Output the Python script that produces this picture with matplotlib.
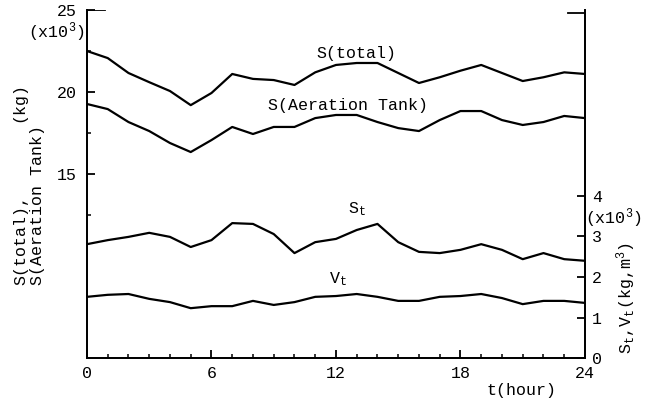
import numpy as np
import matplotlib
matplotlib.use("Agg")
import matplotlib.pyplot as plt
from matplotlib.lines import Line2D

plt.rcParams['font.family'] = ['Liberation Mono', 'DejaVu Sans Mono']
plt.rcParams['mathtext.fontset'] = 'custom'
plt.rcParams['mathtext.rm'] = 'Liberation Mono'
plt.rcParams['mathtext.it'] = 'Liberation Mono'
plt.rcParams['mathtext.default'] = 'regular'

# hours 0..24
hours = list(range(25))
# left axis (x10^3 kg)
s_total = [22.5, 22.07, 21.16, 20.6, 20.06, 19.2, 19.94, 21.1, 20.8, 20.73, 20.43, 21.2, 21.65,
           21.77, 21.77, 21.16, 20.55, 20.9, 21.3, 21.65, 21.16, 20.67, 20.9, 21.2, 21.1]
s_aer = [19.27, 18.96, 18.17, 17.62, 16.89, 16.34, 17.07, 17.87, 17.44, 17.87, 17.87, 18.41, 18.6,
         18.6, 18.17, 17.8, 17.62, 18.29, 18.84, 18.84, 18.29, 17.99, 18.17, 18.54, 18.41]
# right axis (x10^3 kg, m3)
s_t = [2.81, 2.91, 2.99, 3.09, 2.99, 2.74, 2.91, 3.33, 3.31, 3.06, 2.59, 2.86, 2.94,
       3.16, 3.31, 2.86, 2.62, 2.59, 2.67, 2.81, 2.67, 2.44, 2.59, 2.44, 2.40]
v_t = [1.51, 1.56, 1.58, 1.46, 1.38, 1.23, 1.28, 1.28, 1.41, 1.31, 1.38, 1.51, 1.53,
       1.58, 1.51, 1.41, 1.41, 1.51, 1.53, 1.58, 1.48, 1.33, 1.41, 1.41, 1.36]

x_ticks = [0, 6, 12, 18, 24]
left_ticks = [25, 20, 15]
right_ticks = [0, 1, 2, 3, 4]

fs = 12
lw = 1.6

fig = plt.figure(figsize=(6.52, 4.01), dpi=100)
ax = fig.add_axes([0.1334, 0.1072, 0.7638, 0.8678])
ax2 = ax.twinx()

ax.plot(hours, s_total, color='black', lw=lw)
ax.plot(hours, s_aer, color='black', lw=lw)
ax2.plot(hours, s_t, color='black', lw=lw)
ax2.plot(hours, v_t, color='black', lw=lw)

ax.set_xlim(0, 24)
ax.set_ylim(3.78, 25)
ax2.set_ylim(0, 8.59)

ax.set_xticks(x_ticks)
ax.set_xticks(range(25), minor=True)
ax.set_yticks(left_ticks)
ax.set_yticks([22.5, 17.5, 12.5], minor=True)
ax2.set_yticks(right_ticks)

for a in (ax, ax2):
    a.spines['top'].set_visible(False)
    for s in a.spines.values():
        s.set_linewidth(1.3)
ax.tick_params(axis='both', which='major', direction='in', length=6, width=1.3,
               labelsize=fs, pad=7)
ax.tick_params(axis='both', which='minor', direction='in', length=3, width=1.1)
ax.tick_params(axis='x', pad=6)
ax2.tick_params(axis='y', which='major', direction='in', length=6, width=1.3,
                labelsize=fs, pad=5)

# top end marks of the two vertical axes
ax.add_line(Line2D([0, 0.036], [1, 1], transform=ax.transAxes, color='black', lw=1.3))
ax.add_line(Line2D([0.966, 1], [0.991, 0.991], transform=ax.transAxes, color='black', lw=1.3))

# curve labels
ax.text(13, 21.9, 'S(total)', fontsize=fs, ha='center', va='bottom')
ax.text(12.6, 18.7, 'S(Aeration Tank)', fontsize=fs, ha='center', va='bottom')
ax2.text(13.0, 3.45, 'S$_t$', fontsize=fs, ha='center', va='bottom')
ax2.text(12.1, 1.72, 'V$_t$', fontsize=fs, ha='center', va='bottom')

# axis annotations
fig.text(56 / 652, 1 - 32 / 401, '(x10$^3$)', fontsize=fs, ha='center', va='center')
fig.text(613 / 652, 1 - 218 / 401, '(x10$^3$)', fontsize=fs, ha='center', va='center')
fig.text(521 / 652, 1 - 390 / 401, 't(hour)', fontsize=fs, ha='center', va='center')
fig.text(21 / 652, 1 - 285 / 401, 'S(total),', fontsize=fs, rotation=90,
         ha='center', va='bottom')
fig.text(19 / 652, 1 - 102 / 401, '(kg)', fontsize=fs, rotation=90,
         ha='center', va='center')
fig.text(38 / 652, 1 - 285 / 401, 'S(Aeration Tank)', fontsize=fs, rotation=90,
         ha='center', va='bottom')
fig.text(626 / 652, 1 - 354 / 401, 'S$_t$,V$_t$(kg,m$^3$)', fontsize=fs, rotation=90,
         ha='center', va='bottom')

fig.savefig('out.png', dpi=100)
